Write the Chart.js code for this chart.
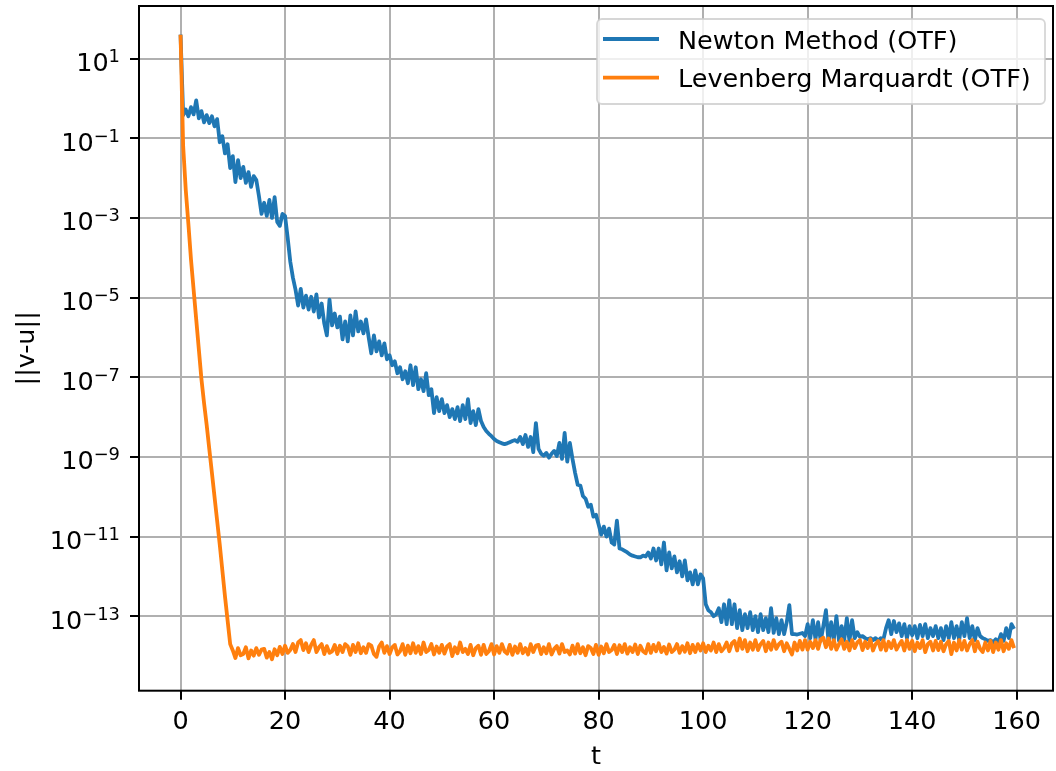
<!DOCTYPE html>
<html>
<head>
<meta charset="utf-8">
<script src="https://cdn.jsdelivr.net/npm/chart.js@4.4.1/dist/chart.umd.min.js"></script>
<style>
  html, body { margin: 0; padding: 0; background: #fff; }
  #wrap { width: 1056px; height: 771px; }
</style>
</head>
<body>
<div id="wrap"><canvas id="convChart" width="1056" height="771"></canvas></div>
<script>
// sample spacing in t (both runs stored every 0.5)
const tStep = 0.5;

// log10 of ||v-u||, Newton method
const newtonLog10 = [
  1.6, -0.42, -0.28, -0.45, -0.22, -0.4, -0.05, -0.5, -0.32, -0.6,
  -0.42, -0.62, -0.45, -0.7, -0.52, -1.1, -0.95, -1.38, -1.15, -1.75,
  -1.45, -2.1, -1.55, -2.0, -1.72, -2.12, -1.85, -2.22, -1.95, -2.05,
  -2.45, -2.9, -2.62, -2.95, -2.55, -3.0, -2.48, -3.1, -3.2, -2.9,
  -2.95, -3.5, -4.1, -4.5, -4.8, -5.2, -4.78, -5.25, -4.95, -5.3,
  -4.98, -5.35, -4.92, -5.5, -5.15, -5.65, -5.95, -5.05, -5.7, -5.4,
  -5.75, -5.48, -6.05, -5.6, -6.1, -5.45, -5.95, -5.35, -5.85, -5.6,
  -5.9, -5.55, -6.0, -6.4, -5.95, -6.35, -6.1, -6.45, -6.15, -6.55,
  -6.45, -6.7, -6.6, -6.9, -6.75, -7.05, -6.85, -7.15, -6.7, -7.2,
  -6.75, -7.3, -7.05, -7.35, -6.9, -7.45, -7.3, -7.9, -7.5, -7.85,
  -7.55, -7.9, -7.7, -8.0, -7.8, -8.05, -7.75, -8.1, -7.7, -8.05,
  -7.55, -8.15, -7.85, -8.2, -7.8, -8.1, -8.25, -8.35, -8.42, -8.48,
  -8.55, -8.6, -8.63, -8.66, -8.68, -8.66, -8.63, -8.6, -8.58, -8.62,
  -8.5, -8.68, -8.45, -8.75, -8.5, -8.88, -8.15, -8.8, -8.92, -8.97,
  -8.9, -9.02, -8.92, -8.85, -8.98, -8.65, -9.05, -8.4, -9.12, -8.65,
  -9.05, -9.4, -9.7, -9.72, -9.98, -10.05, -10.25, -10.2, -10.5, -10.45,
  -10.7, -10.95, -10.75, -11.0, -10.8, -11.15, -11.2, -10.6, -11.3, -11.32,
  -11.36, -11.4, -11.45, -11.48, -11.5, -11.52, -11.52, -11.48, -11.5, -11.4,
  -11.55, -11.3, -11.6, -11.3, -11.7, -11.15, -11.85, -11.4, -11.8, -11.5,
  -11.9, -11.62, -12.0, -11.6, -12.1, -11.9, -12.2, -11.85, -12.2, -11.95,
  -12.05, -12.7, -12.85, -12.9, -13.0, -12.95, -12.8, -13.15, -12.7, -13.2,
  -12.6, -13.2, -12.7, -13.3, -12.85, -13.35, -12.95, -13.3, -12.9, -13.35,
  -13.0, -13.4, -12.95, -13.35, -13.05, -13.4, -12.8, -13.42, -13.05, -13.45,
  -13.1, -13.45, -13.15, -12.72, -13.45, -13.45, -13.46, -13.44, -13.42, -13.5,
  -13.2, -13.55, -13.1, -13.58, -13.15, -13.62, -13.25, -12.85, -13.66, -13.15,
  -13.6, -13.0, -13.62, -13.25, -13.6, -13.05, -13.62, -13.1, -13.55, -13.4,
  -13.52, -13.5, -13.55, -13.58, -13.55, -13.6, -13.55, -13.62, -13.55, -13.58,
  -13.3, -13.1, -13.45, -13.12, -13.4, -13.18, -13.5, -13.2, -13.55, -13.25,
  -13.48, -13.25, -13.55, -13.22, -13.5, -13.2, -13.55, -13.3, -13.5, -13.25,
  -13.55, -13.3, -13.6, -13.25, -13.55, -13.15, -13.55, -13.25, -13.6, -13.15,
  -13.5, -13.05, -13.55, -13.25, -13.6, -13.3, -13.5, -13.55, -13.58, -13.62,
  -13.6, -13.66, -13.58, -13.64, -13.45, -13.62, -13.3, -13.55, -13.2, -13.32
];

// log10 of ||v-u||, Levenberg Marquardt
const lmLog10 = [
  1.6, -1.2, -2.3, -3.15, -4.05, -4.8, -5.55, -6.3, -7.05, -7.65,
  -8.2, -8.8, -9.4, -10.0, -10.6, -11.2, -11.85, -12.5, -13.1, -13.7,
  -13.86, -14.05, -13.8, -13.98, -13.95, -13.78, -14.06, -13.86, -13.99, -13.8,
  -13.97, -13.84, -13.82, -14.04, -13.9, -14.08, -13.83, -13.98, -13.77, -13.95,
  -13.74, -13.92, -13.85, -13.7, -13.9, -13.66, -13.6, -13.85, -13.68, -13.9,
  -13.72, -13.6, -13.9, -13.78, -13.7, -13.95, -13.75, -13.92, -13.88, -13.72,
  -13.95, -13.74, -13.9, -13.7, -13.76, -13.97, -13.72, -13.9, -13.68, -13.93,
  -13.78, -13.92, -13.7, -13.74, -13.95, -14.02, -13.76, -13.66, -13.92, -13.75,
  -13.95, -13.78, -13.72, -13.96, -13.88, -13.7, -13.97, -13.74, -13.93, -13.68,
  -13.92, -13.75, -13.95, -13.66, -13.9, -13.85, -13.7, -13.96, -13.76, -13.92,
  -13.72, -13.94, -13.76, -13.7, -14.0, -13.78, -13.93, -13.66, -13.9, -13.82,
  -13.95, -13.72, -13.98, -13.8, -13.74, -13.97, -13.72, -13.95, -13.88, -13.7,
  -13.96, -13.75, -13.92, -13.7, -13.88, -13.94, -13.72, -13.97, -13.76, -13.92,
  -13.7, -13.93, -13.8, -13.96, -13.7, -13.9, -13.74, -13.72, -13.95, -13.78,
  -13.93, -13.7, -13.96, -13.82, -13.75, -13.94, -13.7, -13.9, -13.86, -13.96,
  -13.74, -13.94, -13.7, -13.93, -13.78, -13.98, -13.75, -13.8, -13.95, -13.72,
  -13.97, -13.76, -13.93, -13.7, -13.9, -13.85, -13.72, -13.95, -13.73, -13.9,
  -13.7, -13.94, -13.78, -13.9, -13.71, -13.95, -13.74, -13.88, -13.93, -13.7,
  -13.92, -13.72, -13.88, -13.68, -13.9, -13.77, -13.94, -13.71, -13.9, -13.84,
  -13.7, -13.92, -13.75, -13.89, -13.68, -13.93, -13.72, -13.9, -13.7, -13.86,
  -13.68, -13.9, -13.74, -13.86, -13.66, -13.9, -13.7, -13.88, -13.8, -13.66,
  -13.88, -13.68, -13.62, -13.86, -13.56, -13.82, -13.6, -13.88, -13.66, -13.84,
  -13.6, -13.85, -13.7, -13.62, -13.88, -13.66, -13.84, -13.6, -13.82, -13.7,
  -13.64, -13.88, -13.68, -13.82, -13.96, -13.66, -13.86, -13.62, -13.84, -13.6,
  -13.84, -13.64, -13.8, -13.6, -13.82, -13.58, -13.54, -13.78, -13.56, -13.82,
  -13.6, -13.84, -13.7, -13.58, -13.82, -13.64, -13.86, -13.6, -13.8, -13.66,
  -13.6, -13.85, -13.64, -13.8, -13.58, -13.86, -13.7, -13.62, -13.84, -13.6,
  -13.86, -13.64, -13.8, -13.6, -13.84, -13.72, -13.62, -13.86, -13.6, -13.82,
  -13.62, -13.88, -13.66, -13.8, -13.6, -13.9, -13.7, -13.64, -13.86, -13.62,
  -13.85, -13.64, -13.88, -13.7, -13.62, -13.95, -13.66, -13.86, -13.6, -13.84,
  -13.62, -13.86, -13.7, -13.6, -13.88, -13.64, -13.82, -13.9, -13.66, -13.86,
  -13.62, -13.9, -13.66, -13.84, -13.6, -13.88, -13.68, -13.82, -13.6, -13.8
];

const seriesLabels = ['Newton Method (OTF)', 'Levenberg Marquardt (OTF)'];
const seriesColors = ['#1f77b4', '#ff7f0e'];
const xTicks = [0, 20, 40, 60, 80, 100, 120, 140, 160];
const yTicks = [1e1, 1e-1, 1e-3, 1e-5, 1e-7, 1e-9, 1e-11, 1e-13];

const FONT = '"DejaVu Sans", sans-serif';
const TEXT_PX = 25.5;
const SUP_PX = 17.9;

function toPoints(logs) {
  return logs.map((e, i) => ({ x: i * tStep, y: Math.pow(10, e) }));
}

// frame, ticks, tick labels, axis titles and the legend, matplotlib style
const mplDecor = {
  id: 'mplDecor',
  afterDraw(chart) {
    const { ctx, chartArea: a, scales } = chart;
    const xs = scales.x, ys = scales.y;
    ctx.save();

    // tick marks
    ctx.strokeStyle = '#000';
    ctx.lineWidth = 2;
    ctx.beginPath();
    xs.ticks.forEach(t => {
      const px = Math.round(xs.getPixelForValue(t.value));
      ctx.moveTo(px, a.bottom);
      ctx.lineTo(px, a.bottom + 9);
    });
    ys.ticks.forEach(t => {
      const py = Math.round(ys.getPixelForValue(t.value));
      ctx.moveTo(a.left, py);
      ctx.lineTo(a.left - 9, py);
    });
    ctx.stroke();

    // spines
    ctx.lineWidth = 2;
    ctx.strokeRect(a.left, a.top, a.right - a.left, a.bottom - a.top);

    ctx.fillStyle = '#000';
    // x tick labels
    ctx.font = TEXT_PX + 'px ' + FONT;
    ctx.textAlign = 'center';
    ctx.textBaseline = 'alphabetic';
    xs.ticks.forEach(t => {
      ctx.fillText(String(t.value), xs.getPixelForValue(t.value), 729);
    });

    // y tick labels as 10^n
    ys.ticks.forEach(t => {
      const py = ys.getPixelForValue(t.value);
      const exp = Math.round(Math.log10(t.value));
      const sup = (exp < 0 ? '\u2212' : '') + Math.abs(exp);
      ctx.textAlign = 'left';
      ctx.font = SUP_PX + 'px ' + FONT;
      const supW = ctx.measureText(sup).width;
      ctx.font = TEXT_PX + 'px ' + FONT;
      const baseW = ctx.measureText('10').width;
      const right = a.left - 19;
      ctx.fillText('10', right - supW - baseW, py + 12.5);
      ctx.font = SUP_PX + 'px ' + FONT;
      ctx.fillText(sup, right - supW, py + 3.5);
    });

    // axis titles
    ctx.font = TEXT_PX + 'px ' + FONT;
    ctx.textAlign = 'center';
    ctx.fillText('t', (a.left + a.right) / 2, 764);
    ctx.save();
    ctx.translate(27, (a.top + a.bottom) / 2);
    ctx.rotate(-Math.PI / 2);
    ctx.textBaseline = 'middle';
    ctx.fillText('||v-u||', 0, 0);
    ctx.restore();

    // legend box (upper right)
    const lx = 597, ly = 19, lw = 448, lh = 85, r = 5;
    ctx.beginPath();
    ctx.roundRect(lx, ly, lw, lh, r);
    ctx.fillStyle = 'rgba(255,255,255,0.8)';
    ctx.fill();
    ctx.strokeStyle = 'rgba(204,204,204,0.8)';
    ctx.lineWidth = 1.8;
    ctx.stroke();

    seriesLabels.forEach((label, i) => {
      const rowY = 39 + i * 38.7;
      ctx.strokeStyle = seriesColors[i];
      ctx.lineWidth = 3.8;
      ctx.beginPath();
      ctx.moveTo(603, rowY);
      ctx.lineTo(659, rowY);
      ctx.stroke();
      ctx.fillStyle = '#000';
      ctx.font = TEXT_PX + 'px ' + FONT;
      ctx.textAlign = 'left';
      ctx.textBaseline = 'alphabetic';
      ctx.fillText(label, 678, rowY + 9.5);
    });

    ctx.restore();
  }
};

const ctx = document.getElementById('convChart').getContext('2d');
new Chart(ctx, {
  type: 'line',
  data: {
    datasets: [
      {
        label: seriesLabels[0],
        data: toPoints(newtonLog10),
        borderColor: seriesColors[0],
        borderWidth: 3.8,
        pointRadius: 0,
        tension: 0,
        fill: false,
        borderJoinStyle: 'round',
        order: 1
      },
      {
        label: seriesLabels[1],
        data: toPoints(lmLog10),
        borderColor: seriesColors[1],
        borderWidth: 3.8,
        pointRadius: 0,
        tension: 0,
        fill: false,
        borderJoinStyle: 'round',
        order: 0
      }
    ]
  },
  options: {
    responsive: false,
    animation: false,
    devicePixelRatio: 1,
    layout: { padding: { top: 6, right: 3, left: 0, bottom: 0 } },
    plugins: {
      legend: { display: false },
      tooltip: { enabled: false }
    },
    scales: {
      x: {
        type: 'linear',
        bounds: 'data',
        min: -7.95,
        max: 166.95,
        afterBuildTicks: scale => { scale.ticks = xTicks.map(v => ({ value: v })); },
        afterFit: scale => { scale.height = 80.3; },
        ticks: { display: false },
        grid: { color: '#b0b0b0', lineWidth: 2, drawTicks: false },
        border: { display: false }
      },
      y: {
        type: 'logarithmic',
        bounds: 'data',
        min: Math.pow(10, -14.87),
        max: Math.pow(10, 2.32),
        afterBuildTicks: scale => { scale.ticks = yTicks.map(v => ({ value: v, major: true })); },
        afterFit: scale => { scale.width = 139; },
        ticks: { display: false },
        grid: { color: '#b0b0b0', lineWidth: 2, drawTicks: false },
        border: { display: false }
      }
    }
  },
  plugins: [mplDecor]
});
</script>
</body>
</html>
